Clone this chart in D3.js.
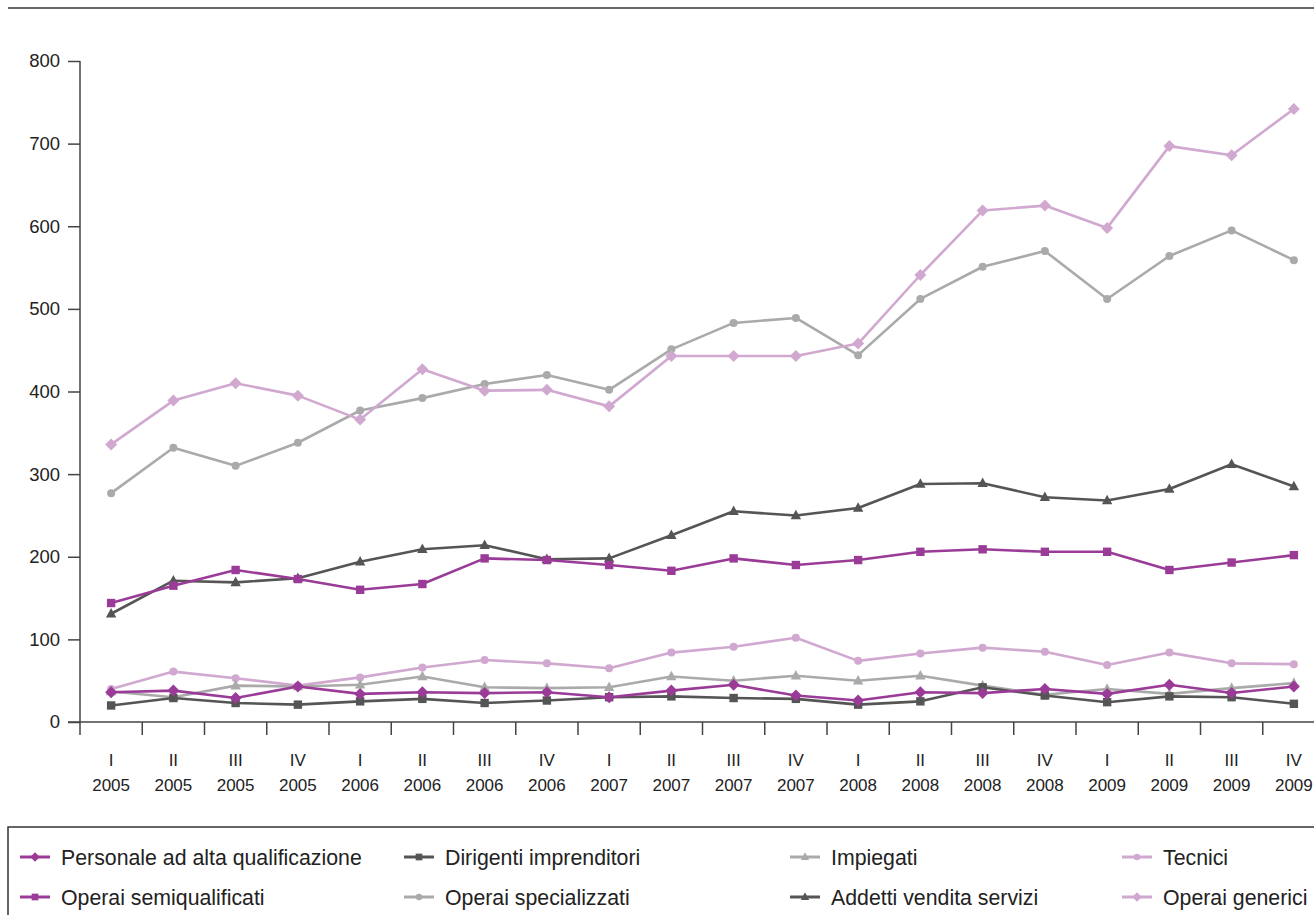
<!DOCTYPE html>
<html>
<head>
<meta charset="utf-8">
<script src="https://cdn.jsdelivr.net/npm/d3@7"></script>
<style>
html,body{margin:0;padding:0;background:#fff;}
svg{display:block;}
text{font-family:"Liberation Sans",Arial,Helvetica,sans-serif;fill:#222;}
</style>
</head>
<body>
<svg id="chart" width="1314" height="915"></svg>
<script>
const quarters = ["I","II","III","IV","I","II","III","IV","I","II","III","IV","I","II","III","IV","I","II","III","IV"];
const years = ["2005","2005","2005","2005","2006","2006","2006","2006","2007","2007","2007","2007","2008","2008","2008","2008","2009","2009","2009","2009"];
const yTicks = [0,100,200,300,400,500,600,700,800];

const personale = [36,38,29,43,34,36,35,36,30,38,45,32,26,36,35,40,34,45,35,43];
const dirigenti = [20,29,23,21,25,28,23,26,30,31,29,28,21,25,42,32,24,31,30,22];
const impiegati = [37,30,44,43,45,55,42,41,42,55,50,56,50,56,44,33,40,34,41,47];
const tecnici = [40,61,53,44,54,66,75,71,65,84,91,102,74,83,90,85,69,84,71,70];
const semiqualificati = [144,165,184,173,160,167,198,196,190,183,198,190,196,206,209,206,206,184,193,202];
const specializzati = [277,332,310,338,377,392,409,420,402,451,483,489,444,512,551,570,512,564,595,559];
const addetti = [131,171,169,174,194,209,214,197,198,226,255,250,259,288,289,272,268,282,312,285];
const generici = [336,389,410,395,366,427,401,402,382,443,443,443,458,541,619,625,598,697,686,742];

const seriesNames = ["Personale ad alta qualificazione","Dirigenti imprenditori","Impiegati","Tecnici",
  "Operai semiqualificati","Operai specializzati","Addetti vendita servizi","Operai generici"];
const seriesData = [personale, dirigenti, impiegati, tecnici, semiqualificati, specializzati, addetti, generici];
const seriesColors = ["#9a3b97","#555555","#aaaaaa","#d0a8d0","#9a3b97","#aaaaaa","#555555","#d0a8d0"];
const seriesMarkers = ["diamond","square","triangle","circle","square","circle","triangle","diamond"];

const svg = d3.select("#chart");
const cats = d3.range(quarters.length);
const x = d3.scaleBand().domain(cats).range([80, 80 + 20*62.25]).padding(0);
const y = d3.scaleLinear().domain([0,800]).range([722, 61]);
const cx = i => x(i) + x.bandwidth()/2;

// top rule
svg.append("line").attr("x1",8).attr("x2",1314).attr("y1",8).attr("y2",8)
  .attr("stroke","#333").attr("stroke-width",1.5);

// y axis
const yAxis = svg.append("g").attr("transform","translate(80,0)")
  .call(d3.axisLeft(y).tickValues(yTicks).tickSize(12).tickPadding(8).tickFormat(d3.format("d")));
yAxis.select(".domain").attr("stroke","#444").attr("stroke-width",1.5).attr("d","M0,61V722");
yAxis.selectAll(".tick line").attr("stroke","#444").attr("stroke-width",1.5);
yAxis.selectAll(".tick text").attr("font-size",18.5).attr("fill","#222")
  .attr("font-family","Liberation Sans, Arial, sans-serif");

// x axis line
svg.append("line").attr("x1",68).attr("x2",1314).attr("y1",y(0)).attr("y2",y(0))
  .attr("stroke","#444").attr("stroke-width",1.5);
// x ticks (band boundaries)
svg.append("g").selectAll("line").data(cats).join("line")
  .attr("x1",d=>x(d)).attr("x2",d=>x(d)).attr("y1",y(0)).attr("y2",y(0)+13)
  .attr("stroke","#444").attr("stroke-width",1.5);
// x labels
const xl = svg.append("g");
xl.selectAll("text.q").data(cats).join("text").attr("class","q")
  .attr("x",d=>cx(d)).attr("y",766).attr("text-anchor","middle").attr("font-size",17)
  .text(d=>quarters[d]);
xl.selectAll("text.yr").data(cats).join("text").attr("class","yr")
  .attr("x",d=>cx(d)).attr("y",791).attr("text-anchor","middle").attr("font-size",17)
  .text(d=>years[d]);

function drawMarker(g, type, color, s) {
  let d;
  if (type==="diamond") d = `M0,${-s*0.6}L${s*0.6},0L0,${s*0.6}L${-s*0.6},0Z`;
  else if (type==="square") d = `M${-s*0.42},${-s*0.42}h${s*0.84}v${s*0.84}h${-s*0.84}Z`;
  else if (type==="triangle") d = `M0,${-s*0.58}L${s*0.52},${s*0.38}L${-s*0.52},${s*0.38}Z`;
  else return g.append("circle").attr("r", s*0.4).attr("fill", color);
  return g.append("path").attr("d", d).attr("fill", color);
}

const line = d3.line().x((d,i)=>cx(i)).y(d=>y(d));
const plot = svg.append("g");
const order = [5,7,6,4,3,2,1,0];
order.forEach(k => {
  const g = plot.append("g");
  g.append("path").datum(seriesData[k]).attr("d", line)
    .attr("fill","none").attr("stroke",seriesColors[k]).attr("stroke-width",2.6)
    .attr("stroke-linejoin","round");
  seriesData[k].forEach((v,i) => {
    const mg = g.append("g").attr("transform",`translate(${cx(i)},${y(v)})`);
    drawMarker(mg, seriesMarkers[k], seriesColors[k], 10);
  });
});

// legend
svg.append("rect").attr("x",8).attr("y",827).attr("width",1330).attr("height",120)
  .attr("fill","none").attr("stroke","#333").attr("stroke-width",1.5);
const colX = [20,404,790,1122];
const rowY = [857,897];
seriesNames.forEach((name,k) => {
  const gx = colX[k%4], gy = rowY[Math.floor(k/4)];
  const g = svg.append("g").attr("transform",`translate(${gx},${gy})`);
  g.append("line").attr("x1",0).attr("x2",30).attr("y1",0).attr("y2",0)
    .attr("stroke",seriesColors[k]).attr("stroke-width",3);
  const mg = g.append("g").attr("transform","translate(15,0)");
  drawMarker(mg, seriesMarkers[k], seriesColors[k], 8);
  g.append("text").attr("x",41).attr("y",7.5).attr("font-size",21.3).text(name);
});
</script>
</body>
</html>
